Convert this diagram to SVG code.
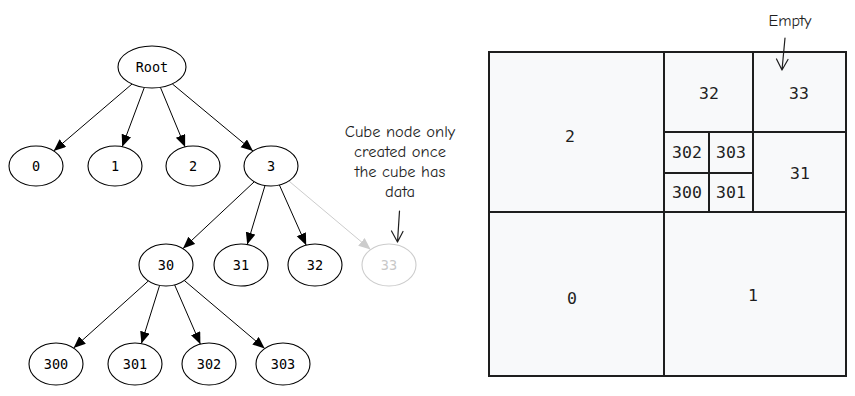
<svg xmlns="http://www.w3.org/2000/svg" width="855" height="396" viewBox="0 0 855 396">
<style>
.n ellipse{fill:#fff;stroke:#000;stroke-width:1.1}
.n text,.g text{font-family:"DejaVu Sans Mono","Liberation Mono",monospace;text-anchor:middle;dominant-baseline:central;fill:#000}
.n text{font-size:13.5px}
.n.ghost ellipse{stroke:#cccccc}
.n.ghost text{fill:#c8c8c8}
.e{stroke:#000;stroke-width:1;fill:none;marker-end:url(#ah)}
.e.ghost{stroke:#cccccc;marker-end:url(#ahg)}
.g rect{fill:#f8f9fa;stroke:#1e1e1e;stroke-width:2}
.g line{stroke:#1e1e1e;stroke-width:2}
.g text{font-size:16.5px;fill:#1e1e1e}
.note{font-family:"Comic Neue","Noto Sans","Liberation Sans",sans-serif;font-size:16.5px;fill:#1e1e1e;text-anchor:middle}
.na{stroke:#1e1e1e;stroke-width:1.2;fill:none;stroke-linecap:round;stroke-linejoin:round}
</style>
<defs>
<marker id="ah" markerUnits="userSpaceOnUse" markerWidth="13" markerHeight="11" refX="12" refY="5" orient="auto"><path d="M0,0 L12,5 L0,10 z" fill="#000"/></marker>
<marker id="ahg" markerUnits="userSpaceOnUse" markerWidth="13" markerHeight="11" refX="12" refY="5" orient="auto"><path d="M0,0 L12,5 L0,10 z" fill="#cccccc"/></marker>
</defs>
<g id="connectors">
<line class="e" x1="132" y1="84" x2="53.7" y2="150.9"/>
<line class="e" x1="144.3" y1="87.5" x2="122.2" y2="146.7"/>
<line class="e" x1="160.4" y1="87.3" x2="185.1" y2="146.9"/>
<line class="e" x1="172.3" y1="83.9" x2="253" y2="151"/>
<line class="e" x1="254" y1="182" x2="183" y2="248.5"/>
<line class="e" x1="265" y1="185.5" x2="247.2" y2="244.6"/>
<line class="e" x1="279.4" y1="185" x2="306.2" y2="245.2"/>
<line class="e ghost" x1="288.9" y1="181" x2="370.6" y2="249.6"/>
<line class="e" x1="148.4" y1="280.9" x2="73.6" y2="348.1"/>
<line class="e" x1="159.6" y1="285.4" x2="141.4" y2="343.6"/>
<line class="e" x1="174.6" y1="284.8" x2="200.4" y2="344.2"/>
<line class="e" x1="184.3" y1="280.5" x2="264.7" y2="348.5"/>
</g>
<g id="node-root" class="n"><ellipse cx="152" cy="67" rx="34" ry="21"/><text x="152" y="67">Root</text></g>
<g id="node-0" class="n"><ellipse cx="36" cy="166" rx="27" ry="20"/><text x="36" y="166">0</text></g>
<g id="node-1" class="n"><ellipse cx="115" cy="166" rx="27" ry="20"/><text x="115" y="166">1</text></g>
<g id="node-2" class="n"><ellipse cx="193" cy="166" rx="27" ry="20"/><text x="193" y="166">2</text></g>
<g id="node-3" class="n"><ellipse cx="271" cy="166" rx="27" ry="20"/><text x="271" y="166">3</text></g>
<g id="node-30" class="n"><ellipse cx="166" cy="265" rx="27" ry="21"/><text x="166" y="265">30</text></g>
<g id="node-31" class="n"><ellipse cx="241" cy="265" rx="27" ry="21"/><text x="241" y="265">31</text></g>
<g id="node-32" class="n"><ellipse cx="315" cy="265" rx="27" ry="21"/><text x="315" y="265">32</text></g>
<g id="node-33" class="n ghost"><ellipse cx="389" cy="265" rx="27" ry="21"/><text x="389" y="265">33</text></g>
<g id="node-300" class="n"><ellipse cx="56" cy="364" rx="27" ry="21"/><text x="56" y="364">300</text></g>
<g id="node-301" class="n"><ellipse cx="135" cy="364" rx="27" ry="21"/><text x="135" y="364">301</text></g>
<g id="node-302" class="n"><ellipse cx="209" cy="364" rx="27" ry="21"/><text x="209" y="364">302</text></g>
<g id="node-303" class="n"><ellipse cx="283" cy="364" rx="27" ry="21"/><text x="283" y="364">303</text></g>
<g id="note-cube">
<text class="note" x="400" y="137">Cube node only</text>
<text class="note" x="400" y="157">created once</text>
<text class="note" x="400" y="177">the cube has</text>
<text class="note" x="400" y="197">data</text>
<path class="na" d="M399.5 211 L397.5 242 M391.5 231 L397.5 242 L403 231.5"/>
</g>
<g id="grid" class="g">
<rect x="489" y="52" width="357" height="324"/>
<line x1="664" y1="52" x2="664" y2="376"/>
<line x1="489" y1="212" x2="846" y2="212"/>
<line x1="753" y1="52" x2="753" y2="212"/>
<line x1="664" y1="132" x2="846" y2="132"/>
<line x1="709" y1="132" x2="709" y2="212"/>
<line x1="664" y1="173" x2="753" y2="173"/>
<text x="570" y="136">2</text>
<text x="709" y="93">32</text>
<text x="799" y="93">33</text>
<text x="687" y="152">302</text>
<text x="731" y="152">303</text>
<text x="687" y="192">300</text>
<text x="731" y="192">301</text>
<text x="800" y="173">31</text>
<text x="572" y="298">0</text>
<text x="753" y="295">1</text>
</g>
<g id="note-empty">
<text class="note" x="790" y="26" style="font-size:16px">Empty</text>
<path class="na" d="M785 38 L782 70 M776.5 59 L782 70 L788 59.5"/>
</g>
</svg>
